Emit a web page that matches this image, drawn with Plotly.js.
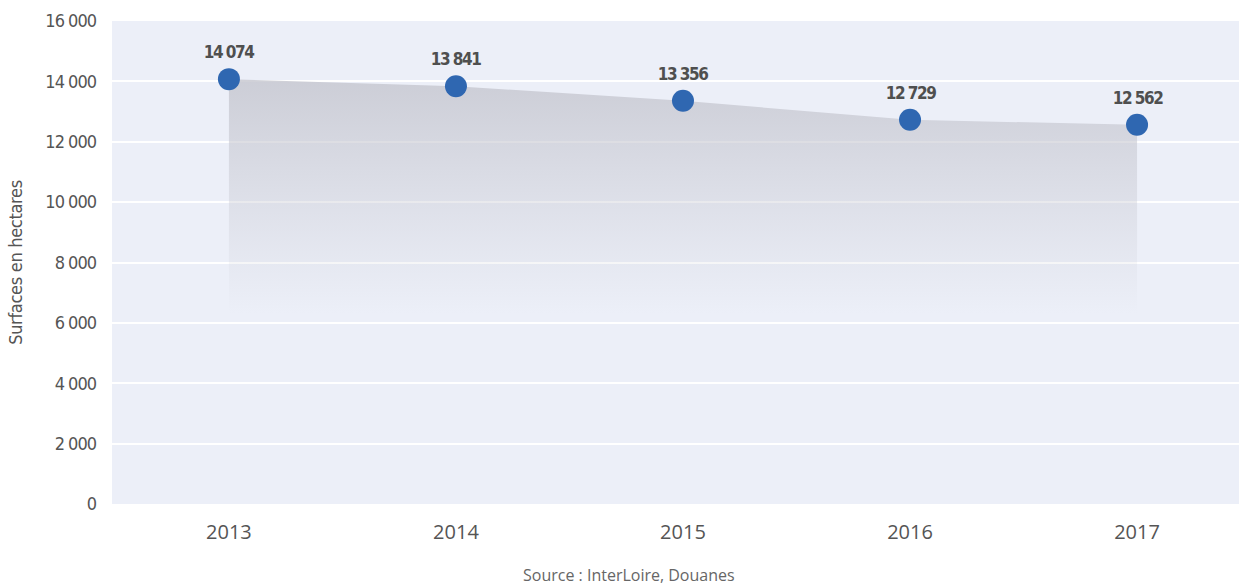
<!DOCTYPE html>
<html>
<head>
<meta charset="utf-8">
<script src="https://cdn.plot.ly/plotly-3.0.1.min.js"></script>
<style>
html,body{margin:0;padding:0;background:#fff;}
#chart{width:1239px;height:586px;}
#chart .ytick text { font-stretch: condensed !important; letter-spacing: -1px; }
#chart .g-ytitle text { font-stretch: condensed !important; letter-spacing: -0.3px; }
#chart .annotation.vlabel text { font-stretch: condensed !important; letter-spacing: -1.5px; }
</style>
</head>
<body>
<div id="chart"></div>
<script>
const years = ['2013', '2014', '2015', '2016', '2017'];
const surfaces = [14074, 13841, 13356, 12729, 12562];
const valueLabels = ['14 074', '13 841', '13 356', '12 729', '12 562'];
const yTickVals = [0, 2000, 4000, 6000, 8000, 10000, 12000, 14000, 16000];
const yTickText = ['0', '2 000', '4 000', '6 000', '8 000', '10 000', '12 000', '14 000', '16 000'];
const yTitle = 'Surfaces en hectares';
const sourceText = 'Source : InterLoire, Douanes';

const narrow = '"DejaVu Sans", sans-serif';
const wide = '"Open Sans", "Noto Sans", sans-serif';

const area = {
  x: years, y: surfaces, type: 'scatter', mode: 'none',
  fill: 'tozeroy',
  fillgradient: {
    type: 'vertical',
    start: 6300, stop: 14074,
    colorscale: [[0, 'rgba(200,201,210,0)'], [1, 'rgba(196,197,206,0.8)']]
  },
  hoverinfo: 'skip', showlegend: false
};
const pts = {
  x: years, y: surfaces, type: 'scatter', mode: 'markers',
  marker: {size: 22, color: '#2f67b1'},
  showlegend: false
};

const annotations = years.map((yr, i) => ({
  x: i, y: surfaces[i], xref: 'x', yref: 'y',
  text: '<b>' + valueLabels[i] + '</b>', showarrow: false,
  yshift: 27, font: {family: narrow, size: 17, color: '#4f4f4f'}
}));
annotations.push({
  x: 0.459, y: 0, xref: 'paper', yref: 'paper', yanchor: 'middle',
  yshift: -71, text: sourceText, showarrow: false,
  font: {family: wide, size: 16, color: '#666'}
});

const layout = {
  width: 1239, height: 586,
  margin: {l: 112, r: 0, t: 21, b: 82},
  paper_bgcolor: '#ffffff', plot_bgcolor: '#eceff8',
  xaxis: {
    type: 'category', range: [-0.515, 4.449],
    showgrid: false, zeroline: false, showline: false, ticks: '',
    tickfont: {family: wide, size: 20, color: '#555'},
    ticklabelstandoff: 14
  },
  yaxis: {
    range: [0, 16000], tickvals: yTickVals, ticktext: yTickText,
    showgrid: true, gridcolor: '#ffffff', gridwidth: 2,
    zeroline: false, showline: false, ticks: '',
    tickfont: {family: narrow, size: 18, color: '#555'},
    ticklabelstandoff: 15,
    title: {text: yTitle, font: {family: narrow, size: 18, color: '#555'}, standoff: 5}
  },
  annotations: annotations,
  hovermode: false
};

Plotly.newPlot('chart', [area, pts], layout, {displayModeBar: false, staticPlot: true}).then(() => {
  document.querySelectorAll('#chart .annotation').forEach((g, i) => {
    if (i < valueLabels.length) g.classList.add('vlabel');
  });
});
</script>
</body>
</html>
